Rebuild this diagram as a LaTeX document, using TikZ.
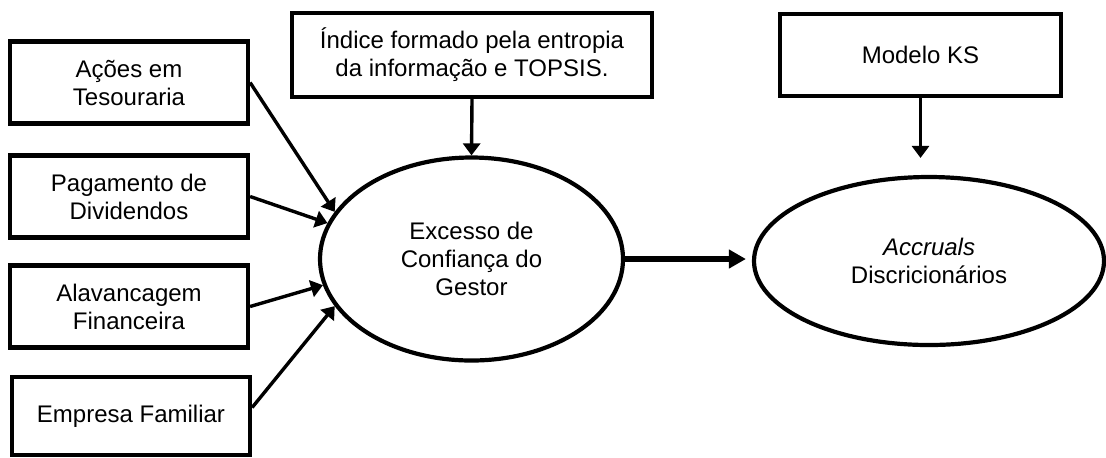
\documentclass[tikz,border=0pt]{standalone}
\usepackage{fontspec}
\setmainfont{Liberation Sans}
\usetikzlibrary{shapes.geometric,arrows.meta}

\begin{document}
\begin{tikzpicture}[x=0.5pt,y=-0.5pt,
    font=\fontsize{12pt}{14pt}\selectfont,
    caixa/.style={draw, line width=2.1pt, align=center, inner sep=0pt,
                  minimum width=119pt, minimum height=41pt},
    elipse/.style={draw, ellipse, line width=2.1pt, align=center, inner sep=0pt},
    seta/.style={-{Triangle[length=6pt,width=8.5pt]}, line width=1.7pt}]
   \useasboundingbox (0,0) rectangle (1106,457);
   % variaveis de excesso de confianca
   \node[caixa] (acoes)       at (129,82.5)  {Ações em\\Tesouraria};
   \node[caixa] (pagamento)   at (129,196.5) {Pagamento de\\Dividendos};
   \node[caixa] (alavancagem) at (129,306.5) {Alavancagem\\Financeira};
   \node[caixa, minimum height=39pt] (familiar) at (131,416) {Empresa Familiar};
   \node[caixa, minimum width=180pt, minimum height=42pt] (indice) at (472,55)
        {Índice formado pela entropia\\da informação e TOPSIS.};
   \node[caixa, minimum width=140.5pt] (modelo) at (920.5,55) {Modelo KS};
   % construtos
   \node[elipse, minimum width=151.5pt, minimum height=101.5pt] (excesso) at (471.5,259)
        {Excesso de\\Confiança do\\Gestor};
   \node[elipse, minimum width=175pt, minimum height=84pt] (accruals) at (929,261)
        {\textit{Accruals}\\Discricionários};
    \draw[seta] (acoes.east) -- (excesso.161);
    \draw[seta] (pagamento.east) -- (excesso.166);
    \draw[seta] (alavancagem.east) -- (excesso.190);
    \draw[seta] (familiar.4) -- (excesso.199);
    \draw[seta] (indice.south) -- (excesso.north);
    \draw[seta, shorten >=8.5pt] (modelo.south) -- (modelo.south |- accruals.north);
    \draw[seta, line width=2.8pt, -{Triangle[length=8.5pt,width=9pt]}, shorten >=3pt]
      (excesso.east) -- (excesso.east -| accruals.west);
\end{tikzpicture}
\end{document}
